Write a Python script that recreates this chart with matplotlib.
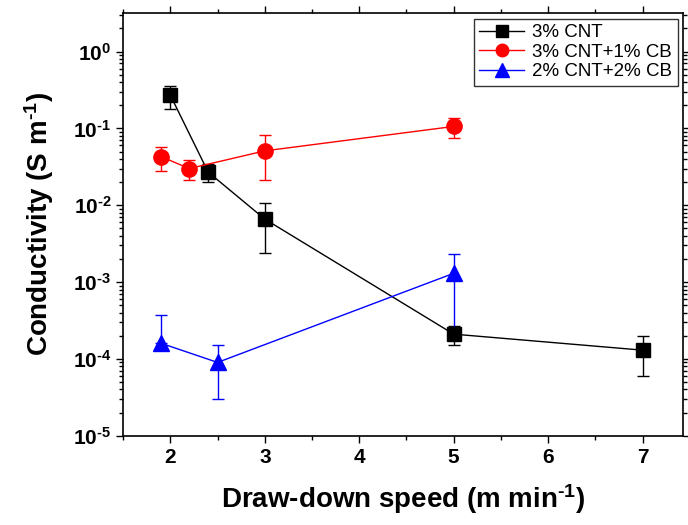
import matplotlib.pyplot as plt
from matplotlib.ticker import FixedLocator, LogLocator, FuncFormatter, NullFormatter
from matplotlib.lines import Line2D
import numpy as np

plt.rcParams['font.family'] = ['Liberation Sans', 'DejaVu Sans']
plt.rcParams['mathtext.fontset'] = 'custom'
plt.rcParams['mathtext.rm'] = 'Liberation Sans:bold'
plt.rcParams['mathtext.it'] = 'Liberation Sans:bold'
plt.rcParams['mathtext.bf'] = 'Liberation Sans:bold'

# 3% CNT
x_cnt = [2, 2.4, 3, 5, 7]
y_cnt = [0.27, 0.027, 0.0066, 2.1e-4, 1.3e-4]
e_cnt = [0.09, 0.007, 0.0042, 0.6e-4, 0.7e-4]

# 3% CNT + 1% CB
x_cb1 = [1.9, 2.2, 3, 5]
y_cb1 = [0.043, 0.030, 0.051, 0.106]
e_cb1 = [0.015, 0.0085, 0.03, 0.03]

# 2% CNT + 2% CB
x_cb2 = [1.9, 2.5, 5]
y_cb2 = [1.6e-4, 9e-5, 1.3e-3]
e_cb2_lo = [0, 6e-5, 1.1e-3]
e_cb2_hi = [2.1e-4, 6e-5, 1.0e-3]

labels = ['3% CNT', '3% CNT+1% CB', '2% CNT+2% CB']

fig = plt.figure(figsize=(6.88, 5.25), dpi=100)
ax = fig.add_axes([0.179, 0.17, 0.814, 0.805])

ax.errorbar(x_cnt, y_cnt, yerr=e_cnt, color='black', marker='s', markersize=10,
            lw=1, capsize=4, elinewidth=1)
ax.errorbar(x_cb1, y_cb1, yerr=e_cb1, color='red', marker='o', markersize=11,
            lw=1, capsize=4, elinewidth=1)
ax.errorbar(x_cb2, y_cb2, yerr=[e_cb2_lo, e_cb2_hi], color='blue', marker='^', markersize=12,
            lw=1, capsize=4, elinewidth=1)

ax.set_yscale('log')
ax.set_ylim(1e-5, 10**0.5)
ax.set_xlim(1.5, 7.43)

ax.xaxis.set_major_locator(FixedLocator([2, 3, 4, 5, 6, 7]))
ax.xaxis.set_minor_locator(FixedLocator([1.5, 2.5, 3.5, 4.5, 5.5, 6.5]))
ax.yaxis.set_major_locator(LogLocator(base=10, numticks=10))
ax.yaxis.set_minor_locator(LogLocator(base=10, subs=np.arange(2, 10), numticks=20))
ax.yaxis.set_minor_formatter(NullFormatter())
ax.yaxis.set_major_formatter(FuncFormatter(
    lambda v, p: r'$10^{\text{%d}}$' % round(np.log10(v))))

ax.tick_params(axis='both', which='major', direction='out', length=5, width=1,
               labelsize=15, top=True, right=True)
ax.tick_params(axis='both', which='minor', direction='out', length=3, width=1,
               top=True, right=True)
for lab in ax.get_xticklabels():
    lab.set_fontweight('bold')
for s in ax.spines.values():
    s.set_linewidth(1.2)

ax.set_xlabel(r'Draw-down speed (m min$^{\text{-1}}$)', fontsize=20, fontweight='bold', labelpad=11)
ax.set_ylabel(r'Conductivity (S m$^{\text{-1}}$)', fontsize=20, fontweight='bold', labelpad=12)

handles = [
    Line2D([], [], color='black', marker='s', markersize=8, lw=1),
    Line2D([], [], color='red', marker='o', markersize=9, lw=1),
    Line2D([], [], color='blue', marker='^', markersize=10, lw=1),
]
leg = ax.legend(handles, labels, loc='upper right', fontsize=13.5, fancybox=False,
                edgecolor='black', handlelength=2.4, borderaxespad=0.3,
                labelspacing=0.12, handletextpad=0.4, borderpad=0.3)
leg.get_frame().set_linewidth(1)

fig.savefig('out.png', dpi=100)
